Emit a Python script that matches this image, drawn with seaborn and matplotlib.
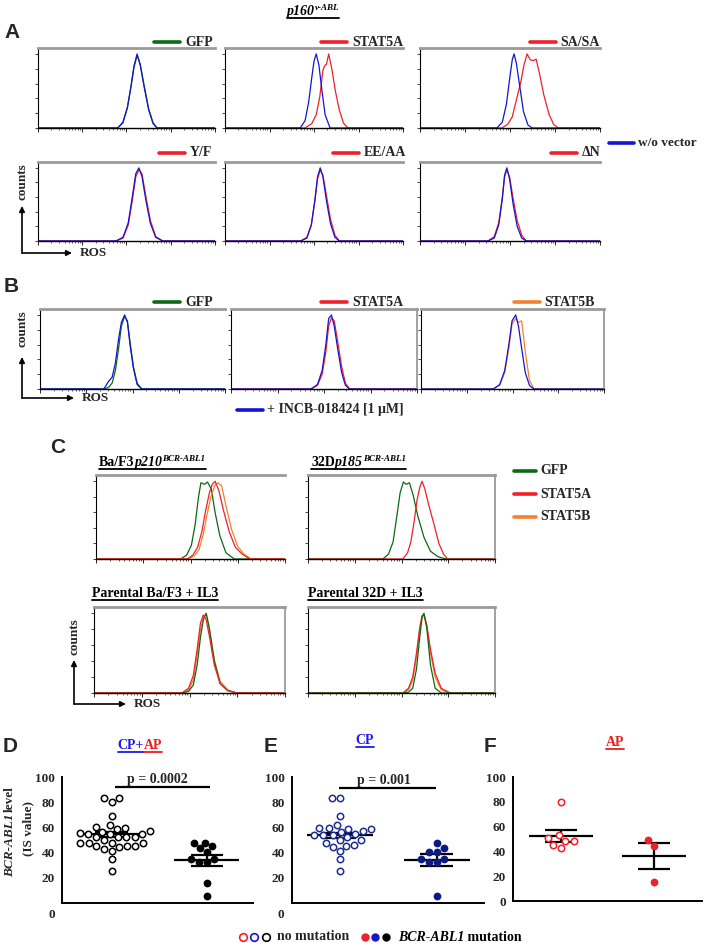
import matplotlib
matplotlib.use("Agg")
import matplotlib.pyplot as plt
import seaborn as sns
import pandas as pd
import numpy as np
from matplotlib.lines import Line2D
from matplotlib.patches import FancyArrowPatch

W, H = 704, 943

# ---------------- flow histograms: x = ROS decades (0-4), y = % of max ----------------
A1_X = [0, 1.80, 1.92, 2.02, 2.10, 2.17, 2.24, 2.31, 2.40, 2.50, 2.60, 2.69, 4]
A1_GFP_Y = [0, 0, 7, 27, 55, 82, 98, 86, 57, 26, 7, 0, 0]
A1_WO_Y = [0, 0, 8, 28, 56, 84, 100, 85, 55, 25, 6, 0, 0]

A2_WO_X = [0, 1.69, 1.80, 1.88, 1.95, 2.00, 2.05, 2.11, 2.18, 2.25, 2.36, 4]
A2_WO_Y = [0, 0, 10, 35, 68, 90, 100, 85, 50, 18, 0, 0]
A2_S5A_X = [0, 1.80, 1.95, 2.05, 2.13, 2.20, 2.24, 2.28, 2.33, 2.40, 2.48, 2.57, 2.66, 2.76, 4]
A2_S5A_Y = [0, 0, 6, 18, 42, 78, 84, 86, 100, 80, 50, 24, 7, 0, 0]

A3_WO_X = [0, 1.71, 1.83, 1.92, 2.00, 2.05, 2.09, 2.14, 2.22, 2.30, 2.40, 2.49, 4]
A3_WO_Y = [0, 0, 8, 32, 70, 92, 100, 88, 55, 22, 4, 0, 0]
A3_SA_X = [0, 1.82, 1.95, 2.05, 2.15, 2.24, 2.31, 2.38, 2.45, 2.52, 2.58, 2.65, 2.75, 2.87, 2.97, 3.07, 4]
A3_SA_Y = [0, 0, 5, 15, 40, 62, 85, 100, 92, 91, 93, 75, 45, 18, 5, 0, 0]

A4_X = [0, 1.76, 1.92, 2.04, 2.13, 2.21, 2.28, 2.35, 2.44, 2.54, 2.66, 2.82, 4]
A4_YF_Y = [0, 0, 4, 22, 55, 88, 97, 92, 60, 28, 6, 0, 0]
A4_WO_Y = [0, 0, 5, 25, 60, 92, 100, 88, 55, 24, 5, 0, 0]

A5_X = [0, 1.70, 1.84, 1.94, 2.02, 2.08, 2.14, 2.20, 2.28, 2.37, 2.47, 2.57, 4]
A5_EE_Y = [0, 0, 5, 22, 55, 85, 97, 90, 62, 30, 8, 0, 0]
A5_WO_Y = [0, 0, 4, 22, 56, 88, 100, 88, 55, 24, 5, 0, 0]

A6_X = [0, 1.51, 1.65, 1.75, 1.83, 1.88, 1.93, 1.99, 2.07, 2.16, 2.26, 2.36, 4]
A6_DN_Y = [0, 0, 6, 25, 60, 88, 97, 88, 58, 28, 8, 0, 0]
A6_WO_Y = [0, 0, 4, 22, 58, 90, 100, 85, 50, 20, 4, 0, 0]

B1_X = [0, 1.38, 1.48, 1.56, 1.63, 1.70, 1.76, 1.83, 1.89, 1.95, 2.02, 2.10, 2.20, 4]
B1_GFP_Y = [0, 0, 2, 8, 25, 55, 85, 98, 92, 62, 30, 8, 0, 0]
B1_INCB_Y = [0, 0, 10, 16, 35, 68, 90, 100, 90, 58, 28, 6, 0, 0]

B2_X = [0, 1.72, 1.86, 1.96, 2.04, 2.10, 2.16, 2.22, 2.30, 2.38, 2.46, 2.55, 4]
B2_S5A_Y = [0, 0, 5, 20, 50, 85, 96, 92, 62, 30, 8, 0, 0]
B2_INCB_Y = [0, 0, 6, 25, 60, 95, 100, 85, 52, 22, 5, 0, 0]

B3_X = [0, 1.58, 1.72, 1.83, 1.92, 1.99, 2.07, 2.13, 2.20, 2.28, 2.37, 2.47, 4]
B3_S5B_Y = [0, 0, 5, 22, 55, 88, 95, 90, 92, 50, 12, 0, 0]
B3_INCB_Y = [0, 0, 6, 25, 60, 92, 100, 85, 55, 22, 5, 0, 0]

C1_GFP_X = [0, 1.79, 1.92, 2.02, 2.10, 2.17, 2.22, 2.30, 2.36, 2.44, 2.52, 2.62, 2.75, 2.93, 4]
C1_GFP_Y = [0, 0, 5, 18, 45, 80, 98, 96, 99, 90, 60, 30, 8, 0, 0]
C1_S5A_X = [0, 1.93, 2.05, 2.15, 2.24, 2.32, 2.40, 2.46, 2.52, 2.60, 2.70, 2.82, 2.95, 3.10, 3.26, 4]
C1_S5A_Y = [0, 0, 5, 15, 35, 62, 85, 96, 100, 88, 62, 35, 15, 6, 0, 0]
C1_S5B_X = [0, 1.95, 2.08, 2.18, 2.27, 2.36, 2.44, 2.52, 2.58, 2.66, 2.76, 2.87, 3.00, 3.14, 3.28, 4]
C1_S5B_Y = [0, 0, 4, 12, 32, 60, 82, 95, 98, 94, 66, 38, 16, 6, 0, 0]

C2_GFP_X = [0, 1.60, 1.72, 1.82, 1.90, 1.97, 2.04, 2.10, 2.17, 2.25, 2.35, 2.48, 2.62, 2.78, 2.95, 4]
C2_GFP_Y = [0, 0, 6, 22, 55, 85, 99, 96, 98, 82, 55, 28, 10, 3, 0, 0]
C2_S5A_X = [0, 2.03, 2.13, 2.20, 2.27, 2.33, 2.39, 2.44, 2.50, 2.58, 2.68, 2.80, 2.90, 2.99, 4]
C2_S5A_Y = [0, 0, 8, 22, 48, 75, 92, 100, 90, 70, 48, 20, 6, 0, 0]

C3_X = [0, 1.84, 1.98, 2.08, 2.16, 2.23, 2.29, 2.35, 2.42, 2.52, 2.64, 2.80, 2.99, 4]
C3_GFP_Y = [0, 0, 2, 10, 35, 70, 92, 100, 80, 40, 12, 3, 0, 0]
C3_S5A_Y = [0, 0, 6, 22, 55, 88, 98, 92, 70, 35, 12, 3, 0, 0]
C3_S5B_Y = [0, 0, 4, 16, 48, 80, 95, 100, 78, 42, 15, 4, 0, 0]

C4_X = [0, 2.03, 2.15, 2.24, 2.32, 2.39, 2.44, 2.48, 2.54, 2.62, 2.72, 2.85, 3.04, 4]
C4_GFP_Y = [0, 0, 1, 6, 30, 70, 95, 100, 82, 35, 6, 0, 0, 0]
C4_S5A_Y = [0, 0, 6, 20, 50, 82, 97, 98, 85, 55, 25, 6, 0, 0]
C4_S5B_Y = [0, 0, 4, 16, 45, 80, 96, 100, 85, 50, 20, 4, 0, 0]

# ---------------- BCR-ABL1 IS values ----------------
D_NOMUT = [83.5, 83, 80.5, 68.7, 61.6, 60, 59.5, 58.4, 57, 56, 55.3, 54.5, 54.5, 54.5,
           52, 52, 52, 52, 49.7, 48, 48, 48, 48, 45, 45, 45, 44.2, 42.6, 41, 34.7, 25.3]
D_MUT = [48, 48, 45, 43.5, 40.5, 35, 35, 32.5, 32.5, 15.5, 5.5]
E_NOMUT = [83, 83, 68.7, 61.6, 59.2, 59.2, 58.4, 58.4, 57, 56, 54.5, 53.7, 53.7, 53.7,
           52, 49.7, 49.7, 48, 45.8, 45.5, 44.2, 41, 34.7, 25.3]
E_MUT = [48, 43.5, 40.5, 40.5, 35, 35, 32.5, 32.5, 5.5]
F_NOMUT = [80, 53, 50.5, 48.5, 48.5, 45.5, 43]
F_MUT = [49, 44.5, 15.5]

D_MEAN, D_SEM = [54.5, 34.0], [2.0, 4.3]
E_MEAN, E_SEM = [53.7, 34.0], [2.0, 5.0]
F_MEAN, F_SEM = [52.5, 36.5], [4.7, 10.5]

GREEN = "#0b6a12"
BLUE = "#1414d2"
RED = "#f0202a"
ORANGE = "#f5812e"
NAVY = "#1d2c92"
NAVY_F = "#0d1a80"

sns.set_style("white")
plt.rcParams["font.family"] = ["Liberation Serif", "DejaVu Serif"]

fig = plt.figure(figsize=(W / 100, H / 100), dpi=100)
renderer = fig.canvas.get_renderer()


def px_ax(l, t, r, b):
    return fig.add_axes([l / W, 1 - b / H, (r - l) / W, (b - t) / H])


def ftext(x, y, s, **kw):
    return fig.text(x / W, 1 - y / H, s, **kw)


def fline(x0, y0, x1, y1, **kw):
    fig.add_artist(Line2D([x0 / W, x1 / W], [1 - y0 / H, 1 - y1 / H],
                          transform=fig.transFigure, **kw))


def rich(x, y, pieces, center=False, underline=False):
    # pieces: (text, style, color, dy, size)
    items = []
    cx = x
    for s, style, color, dy, size in pieces:
        t = ftext(cx, y - dy, s, fontsize=size, fontweight="bold", fontstyle=style,
                  color=color, va="baseline", ha="left")
        w = t.get_window_extent(renderer).width
        items.append((t, cx, w, color))
        cx += w
    shift = -(cx - x) / 2 if center else 0
    for t, x0, w, color in items:
        t.set_x((x0 + shift) / W)
        if underline:
            fline(x0 + shift, y + 3, x0 + shift + w, y + 3, color=color, lw=1.3)


def legend_entry(right, y, label, color, linelen=26):
    t = ftext(right, y, label, fontsize=10, fontweight="bold", ha="right", va="center")
    w = t.get_window_extent(renderer).width
    fline(right - w - 5 - linelen, y, right - w - 5, y, color=color, lw=2.6)


def legend_left(x0, y, label, color, linelen=26, fs=10):
    fline(x0, y, x0 + linelen, y, color=color, lw=2.6)
    ftext(x0 + linelen + 4, y, label, fontsize=fs, fontweight="bold", ha="left", va="center")


def hist_panel(box, curves, right=False):
    ax = px_ax(*box)
    for xs, ys, color in curves:
        sns.lineplot(x=xs, y=ys, ax=ax, color=color, lw=0.9, estimator=None)
    ax.set_xlim(0, 4)
    ax.set_ylim(0, 108)
    ax.set_facecolor("none")
    ax.set_xticks([0, 1, 2, 3, 4])
    ax.set_xticks([d + np.log10(k) for d in range(4) for k in range(2, 10)], minor=True)
    ax.set_yticks([0, 20, 40, 60, 80, 100])
    ax.set_xticklabels([])
    ax.set_yticklabels([])
    ax.tick_params(axis="x", which="major", length=3, width=0.7, bottom=True, direction="out")
    ax.tick_params(axis="x", which="minor", length=1.6, width=0.5, bottom=True, direction="out")
    ax.tick_params(axis="y", length=2.5, width=0.6, left=True, direction="out")
    ax.spines["top"].set_color("#9a9a9a")
    ax.spines["top"].set_linewidth(2)
    ax.spines["right"].set_visible(right)
    ax.spines["right"].set_color("#9a9a9a")
    ax.spines["right"].set_linewidth(1.3)
    ax.spines["left"].set_color("black")
    ax.spines["left"].set_linewidth(0.8)
    ax.spines["bottom"].set_color("black")
    ax.spines["bottom"].set_linewidth(1.0)
    ax.set_xlabel("")
    ax.set_ylabel("")
    return ax


def axis_arrows(x, y, top, right, label_y_center):
    fig.add_artist(FancyArrowPatch((x / W, 1 - y / H), (x / W, 1 - top / H),
                                   transform=fig.transFigure, arrowstyle="-|>",
                                   mutation_scale=8, lw=1.2, color="black", shrinkA=0, shrinkB=0))
    fig.add_artist(FancyArrowPatch((x / W, 1 - y / H), (right / W, 1 - y / H),
                                   transform=fig.transFigure, arrowstyle="-|>",
                                   mutation_scale=8, lw=1.2, color="black", shrinkA=0, shrinkB=0))
    ftext(x, label_y_center, "counts", fontsize=9.5, fontweight="bold", rotation=90,
          ha="center", va="center")
    ftext(right + 8, y, "ROS", fontsize=9.5, fontweight="bold", ha="left", va="center")


def panel_letter(x, y, s):
    ftext(x, y, s, fontsize=15, fontweight="bold", family="Liberation Sans", ha="left", va="center")


# ---------------- panel A ----------------
rich(313, 15, [("p160", "italic", "black", 0, 10), ("v-ABL", "italic", "black", 5, 6.5)],
     center=True, underline=True)
panel_letter(4, 33, "A")

row1 = [(38, 48, 215, 128), (225, 48, 403, 128), (420, 48, 600, 128)]
row2 = [(38, 162, 215, 241), (225, 162, 403, 241), (420, 162, 600, 241)]
hist_panel(row1[0], [(A1_X, A1_GFP_Y, GREEN), (A1_X, A1_WO_Y, BLUE)])
hist_panel(row1[1], [(A2_S5A_X, A2_S5A_Y, RED), (A2_WO_X, A2_WO_Y, BLUE)])
hist_panel(row1[2], [(A3_SA_X, A3_SA_Y, RED), (A3_WO_X, A3_WO_Y, BLUE)])
hist_panel(row2[0], [(A4_X, A4_YF_Y, RED), (A4_X, A4_WO_Y, BLUE)])
hist_panel(row2[1], [(A5_X, A5_EE_Y, RED), (A5_X, A5_WO_Y, BLUE)])
hist_panel(row2[2], [(A6_X, A6_DN_Y, RED), (A6_X, A6_WO_Y, BLUE)])

legend_entry(213, 42, "GFP", GREEN)
legend_entry(403, 42, "STAT5A", RED)
legend_entry(600, 42, "SA/SA", RED)
legend_entry(212, 153, "Y/F", RED)
legend_entry(406, 153, "EE/AA", RED)
legend_entry(601, 153, "ΔN", RED)
legend_left(609, 143, "w/o vector", BLUE, 25, 9.5)
axis_arrows(22, 253, 206, 72, 182)

# ---------------- panel B ----------------
panel_letter(4, 287, "B")
hist_panel((40, 309, 225, 389), [(B1_X, B1_GFP_Y, GREEN), (B1_X, B1_INCB_Y, BLUE)])
hist_panel((231, 309, 417, 389), [(B2_X, B2_S5A_Y, RED), (B2_X, B2_INCB_Y, BLUE)], right=True)
hist_panel((421, 309, 604, 389), [(B3_X, B3_S5B_Y, ORANGE), (B3_X, B3_INCB_Y, BLUE)], right=True)
legend_entry(213, 302, "GFP", GREEN)
legend_entry(403, 302, "STAT5A", RED)
legend_entry(595, 302, "STAT5B", ORANGE)
legend_left(237, 410, "+ INCB-018424 [1 μM]", BLUE)
axis_arrows(22, 398, 357, 74, 329)

# ---------------- panel C ----------------
panel_letter(50, 448, "C")
rich(99, 466, [("Ba/F3", "normal", "black", 0, 10), ("p210", "italic", "black", 0, 10),
               ("BCR-ABL1", "italic", "black", 5, 6.5)], underline=True)
rich(311, 466, [("32D", "normal", "black", 0, 10), ("p185", "italic", "black", 0, 10),
                ("BCR-ABL1", "italic", "black", 5, 6.5)], underline=True)
rich(92, 597, [("Parental Ba/F3 + IL3", "normal", "black", 0, 10)], underline=True)
rich(308, 597, [("Parental 32D + IL3", "normal", "black", 0, 10)], underline=True)
hist_panel((96, 475, 285, 559), [(C1_GFP_X, C1_GFP_Y, GREEN), (C1_S5B_X, C1_S5B_Y, ORANGE),
                                 (C1_S5A_X, C1_S5A_Y, RED)])
hist_panel((308, 475, 495, 559), [(C2_GFP_X, C2_GFP_Y, GREEN), (C2_S5A_X, C2_S5A_Y, RED)],
           right=True)
hist_panel((94, 607, 285, 693), [(C3_X, C3_S5B_Y, ORANGE), (C3_X, C3_GFP_Y, GREEN),
                                 (C3_X, C3_S5A_Y, RED)], right=True)
hist_panel((308, 607, 495, 693), [(C4_X, C4_S5B_Y, ORANGE), (C4_X, C4_S5A_Y, RED),
                                  (C4_X, C4_GFP_Y, GREEN)], right=True)
legend_left(514, 471, "GFP", GREEN, 22)
legend_left(514, 494, "STAT5A", RED, 22)
legend_left(514, 517, "STAT5B", ORANGE, 22)
axis_arrows(74, 704, 660, 126, 637)


# ---------------- panels D / E / F ----------------
def dot_panel(box, xlim, nomut, mut, c_open, c_fill, means, sems, zero_below):
    ax = px_ax(*box)
    df = pd.DataFrame({
        "group": ["no"] * len(nomut) + ["mut"] * len(mut),
        "value": nomut + mut,
    })
    sns.swarmplot(data=df[df.group == "no"], x="group", y="value", order=["no", "mut"],
                  color="white", edgecolor=c_open, linewidth=1.1, size=4.6, ax=ax)
    sns.swarmplot(data=df[df.group == "mut"], x="group", y="value", order=["no", "mut"],
                  color=c_fill, linewidth=0, size=5.6, ax=ax)
    for i, (m, s) in enumerate(zip(means, sems)):
        ax.hlines(m, i - 0.34, i + 0.34, color="black", lw=1.6)
        ax.hlines([m - s, m + s], i - 0.17, i + 0.17, color="black", lw=1.6)
        ax.vlines(i, m - s, m + s, color="black", lw=1.6)
    ax.set_xlim(*xlim)
    ax.set_ylim(0, 100)
    ax.set_facecolor("none")
    ax.set_xticks([])
    ax.set_xlabel("")
    ax.set_ylabel("")
    if zero_below:
        ax.set_yticks([20, 40, 60, 80, 100])
    else:
        ax.set_yticks([0, 20, 40, 60, 80, 100])
    ax.tick_params(axis="y", length=0, pad=5, labelsize=9.5)
    for lab in ax.get_yticklabels():
        lab.set_fontweight("bold")
    for sp in ["top", "right"]:
        ax.spines[sp].set_visible(False)
    for sp in ["left", "bottom"]:
        ax.spines[sp].set_color("black")
        ax.spines[sp].set_linewidth(1.4)
    return ax


axD = dot_panel((62, 777, 253, 903), (-0.522, 1.486), D_NOMUT, D_MUT, "black", "black",
                D_MEAN, D_SEM, True)
axD.hlines(92.3, 0.03, 1.03, color="black", lw=1.6)
axD.text(0.48, 93, "p = 0.0002", ha="center", va="bottom", fontsize=10, fontweight="bold")
axE = dot_panel((292, 777, 484, 903), (-0.495, 1.485), E_NOMUT, E_MUT, NAVY, NAVY_F,
                E_MEAN, E_SEM, True)
axE.hlines(91.5, -0.01, 0.99, color="black", lw=1.6)
axE.text(0.456, 92.2, "p = 0.001", ha="center", va="bottom", fontsize=10, fontweight="bold")
axF = dot_panel((513, 777, 702, 901), (-0.516, 1.516), F_NOMUT, F_MUT, RED, RED,
                F_MEAN, F_SEM, False)

ftext(52, 915, "0", fontsize=9.5, fontweight="bold", ha="center", va="center")
ftext(281, 915, "0", fontsize=9.5, fontweight="bold", ha="center", va="center")

panel_letter(3, 746, "D")
panel_letter(264, 746, "E")
panel_letter(484, 746, "F")
rich(140, 749, [("CP+", "normal", "#1a1af0", 0, 10), ("AP", "normal", "#f01a1a", 0, 10)],
     center=True, underline=True)
rich(365, 744, [("CP", "normal", "#1a1af0", 0, 10)], center=True, underline=True)
rich(615, 746, [("AP", "normal", "#f01a1a", 0, 10)], center=True, underline=True)

# rotated y label of D, built bottom-up so the italic gene name and "level" do not overlap
t_gene = ftext(10, 877, "BCR-ABL1", fontsize=9.5, fontweight="bold", fontstyle="italic",
               rotation=90, ha="center", va="bottom")
h_gene = t_gene.get_window_extent(renderer).height
ftext(10, 877 - h_gene - 2, "level", fontsize=9.5, fontweight="bold", rotation=90,
      ha="center", va="bottom")
ftext(28, 828, "(IS value)", fontsize=9.5, fontweight="bold", rotation=90, ha="center", va="center")

# bottom legend
for x, c in zip([243, 254, 266], [RED, BLUE, "black"]):
    fig.add_artist(Line2D([x / W], [1 - 937 / H], marker="o", markersize=5.5,
                          markerfacecolor="white", markeredgecolor=c, markeredgewidth=1.2,
                          transform=fig.transFigure))
for x, c in zip([365, 375, 386], [RED, BLUE, "black"]):
    fig.add_artist(Line2D([x / W], [1 - 937 / H], marker="o", markersize=6,
                          markerfacecolor=c, markeredgewidth=0, transform=fig.transFigure))
ftext(277, 937, "no mutation", fontsize=10, fontweight="bold", ha="left", va="center")
rich(398, 941, [("BCR-ABL1", "italic", "black", 0, 10), (" mutation", "normal", "black", 0, 10)])

fig.savefig("out.png", dpi=100)
